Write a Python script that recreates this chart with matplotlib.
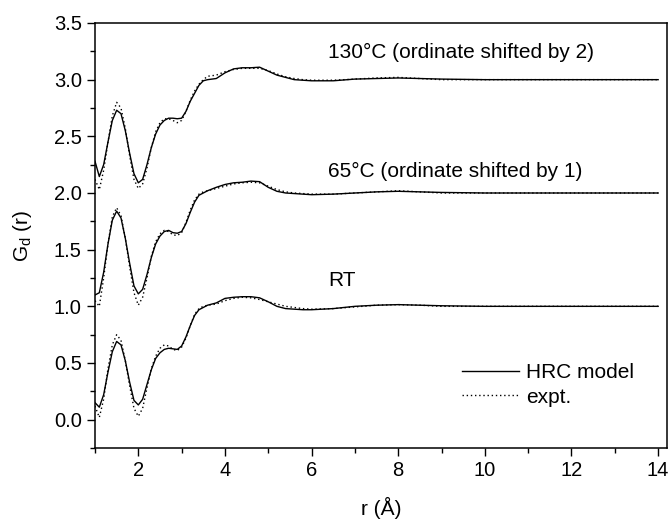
import numpy as np
from matplotlib import pyplot as plt

plt.rcParams['font.family'] = ['Liberation Sans', 'DejaVu Sans']

# r grid (Angstrom)
r = [1.0, 1.1, 1.2, 1.3, 1.4, 1.5, 1.6, 1.7, 1.8, 1.9,
     2.0, 2.1, 2.2, 2.3, 2.4, 2.5, 2.6, 2.7, 2.8, 2.9,
     3.0, 3.1, 3.2, 3.3, 3.4, 3.5, 3.6, 3.8, 4.0, 4.2,
     4.4, 4.6, 4.8, 5.0, 5.2, 5.4, 5.6, 5.8, 6.0, 6.5,
     7.0, 7.5, 8.0, 8.5, 9.0, 10, 11, 12, 13, 14]

# RT
rt_model = [0.15, 0.11, 0.22, 0.42, 0.60, 0.69, 0.66, 0.52, 0.33, 0.17,
            0.13, 0.18, 0.31, 0.44, 0.54, 0.59, 0.62, 0.63, 0.625, 0.62,
            0.65, 0.73, 0.83, 0.92, 0.97, 0.99, 1.01, 1.03, 1.07, 1.08,
            1.085, 1.085, 1.075, 1.04, 1.00, 0.98, 0.975, 0.97, 0.97, 0.98,
            1.0, 1.01, 1.015, 1.01, 1.005, 1.0, 1.0, 1.0, 1.0, 1.0]
rt_expt = [0.12, 0.02, 0.18, 0.45, 0.66, 0.75, 0.70, 0.52, 0.30, 0.10,
           0.03, 0.10, 0.28, 0.45, 0.56, 0.63, 0.66, 0.65, 0.62, 0.61,
           0.64, 0.72, 0.83, 0.93, 0.98, 1.0, 1.01, 1.02, 1.05, 1.07,
           1.08, 1.075, 1.06, 1.04, 1.02, 1.0, 0.99, 0.98, 0.975, 0.98,
           0.995, 1.01, 1.015, 1.01, 1.0, 1.0, 1.0, 1.0, 1.0, 1.0]

# 65 C
t65_model = [0.10, 0.12, 0.30, 0.55, 0.76, 0.84, 0.78, 0.60, 0.38, 0.18,
             0.11, 0.15, 0.28, 0.43, 0.55, 0.62, 0.66, 0.67, 0.65, 0.645,
             0.66, 0.73, 0.83, 0.92, 0.98, 1.0, 1.02, 1.05, 1.075, 1.09,
             1.095, 1.105, 1.10, 1.05, 1.015, 1.0, 0.995, 0.99, 0.985, 0.99,
             1.0, 1.01, 1.015, 1.01, 1.005, 1.0, 1.0, 1.0, 1.0, 1.0]
t65_expt = [0.05, 0.0, 0.25, 0.55, 0.79, 0.87, 0.80, 0.60, 0.35, 0.12,
            0.01, 0.08, 0.25, 0.44, 0.57, 0.64, 0.67, 0.66, 0.63, 0.625,
            0.65, 0.74, 0.85, 0.94, 0.99, 1.01, 1.02, 1.04, 1.06, 1.08,
            1.09, 1.095, 1.09, 1.06, 1.03, 1.01, 1.0, 0.995, 0.99, 0.99,
            1.0, 1.01, 1.02, 1.01, 1.0, 1.0, 1.0, 1.0, 1.0, 1.0]

# 130 C
t130_model = [0.28, 0.145, 0.25, 0.45, 0.64, 0.73, 0.70, 0.55, 0.35, 0.17,
              0.09, 0.12, 0.25, 0.40, 0.52, 0.60, 0.64, 0.66, 0.66, 0.655,
              0.66, 0.72, 0.81, 0.88, 0.95, 0.99, 1.0, 1.01, 1.06, 1.095,
              1.105, 1.105, 1.11, 1.075, 1.04, 1.02, 1.0, 0.995, 0.99, 0.99,
              1.005, 1.01, 1.015, 1.01, 1.005, 1.0, 1.0, 1.0, 1.0, 1.0]
t130_expt = [0.12, 0.03, 0.20, 0.45, 0.68, 0.80, 0.75, 0.57, 0.33, 0.12,
             0.04, 0.08, 0.22, 0.40, 0.54, 0.62, 0.655, 0.655, 0.64, 0.62,
             0.64, 0.72, 0.82, 0.90, 0.96, 1.0, 1.03, 1.04, 1.07, 1.09,
             1.10, 1.10, 1.10, 1.08, 1.05, 1.025, 1.01, 1.0, 0.995, 0.995,
             1.005, 1.015, 1.02, 1.01, 1.0, 1.0, 1.0, 1.0, 1.0, 1.0]

shifts = [0, 1, 2]
labels = ['RT', '65\u00b0C (ordinate shifted by 1)', '130\u00b0C (ordinate shifted by 2)']
label_y = [1.18, 2.14, 3.19]

fig = plt.figure(figsize=(6.68, 5.19), dpi=100)
ax = fig.add_axes([0.1422, 0.1368, 0.856, 0.8189])

r = np.array(r)
curves = [(rt_model, rt_expt), (t65_model, t65_expt), (t130_model, t130_expt)]
for (m, e), s in zip(curves, shifts):
    ax.plot(r, np.array(m) + s, color='black', lw=1.0)
    ax.plot(r, np.array(e) + s, color='black', lw=1.0, ls=(0, (1, 2)))

for lab, ly in zip(labels, label_y):
    ax.text(6.39, ly, lab, fontsize=15, ha='left', va='baseline')

ax.set_xlim(1.04, 14.2)
ax.set_ylim(-0.25, 3.5)
ax.set_xticks([2, 4, 6, 8, 10, 12, 14])
ax.set_xticks(range(1, 15, 2), minor=True)
ax.set_yticks(np.arange(0, 3.51, 0.5))
ax.set_yticks(np.arange(-0.25, 3.5, 0.5), minor=True)
ax.yaxis.set_major_formatter(plt.FormatStrFormatter('%.1f'))
ax.tick_params(which='major', direction='out', length=6, width=1.0, labelsize=14.5)
ax.tick_params(which='minor', direction='out', length=3.5, width=1.0)
for sp in ax.spines.values():
    sp.set_linewidth(1.1)

ax.set_xlabel('r (\u00c5)', fontsize=15, labelpad=12)
ax.set_ylabel('G$_\\mathregular{d}$ (r)', fontsize=15, labelpad=14)

h1, = ax.plot([], [], color='black', lw=1.0)
h2, = ax.plot([], [], color='black', lw=1.0, ls=(0, (1, 2)))
fig.legend([h1, h2], ['HRC model', 'expt.'], loc='center left',
           bbox_to_anchor=(452 / 668, 0.258), frameon=False, fontsize=15,
           handlelength=2.7, handletextpad=0.35, borderpad=0, labelspacing=0.25)

plt.savefig('out.png')
